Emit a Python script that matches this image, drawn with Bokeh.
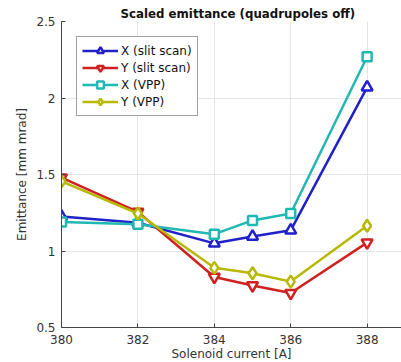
from bokeh.plotting import figure
from bokeh.models import Range1d, FixedTicker, Legend, LegendItem
from bokeh.embed import file_html
from bokeh.resources import INLINE

current = [380, 382, 384, 385, 386, 388]
x_slit = [1.225, 1.185, 1.05, 1.095, 1.135, 2.07]
y_slit = [1.48, 1.255, 0.83, 0.775, 0.725, 1.055]
x_vpp = [1.19, 1.175, 1.11, 1.20, 1.245, 2.27]
y_vpp = [1.455, 1.245, 0.89, 0.855, 0.80, 1.165]

x_ticks = [380, 382, 384, 386, 388]
y_ticks = [0.5, 1, 1.5, 2, 2.5]
y_tick_labels = ["0.5", "1", "1.5", "2", "2.5"]

series = [
    ("X (slit scan)", x_slit, "#2121c8", "triangle", 11, 8),
    ("Y (slit scan)", y_slit, "#d02121", "inverted_triangle", 11, 8),
    ("X (VPP)", x_vpp, "#21b8b3", "square", 9, 7),
    ("Y (VPP)", y_vpp, "#b8b800", "diamond", 12, 10),
]

font = "DejaVu Sans"

p = figure(frame_width=340, frame_height=306, output_backend="svg", toolbar_location=None,
           x_range=Range1d(380, 388.9), y_range=Range1d(0.5, 2.5),
           min_border_left=61, min_border_right=0, min_border_top=21,
           min_border_bottom=35, title="Scaled emittance (quadrupoles off)")
p.outline_line_color = None
p.background_fill_color = "white"
p.border_fill_color = "white"

p.title.align = "left"
p.title.offset = 59
p.title.text_font = font
p.title.text_font_size = "11.8px"
p.title.text_font_style = "bold"
p.title.text_color = "#111111"
p.title.standoff = 2

p.xaxis.ticker = FixedTicker(ticks=x_ticks)
p.yaxis.ticker = FixedTicker(ticks=y_ticks)
p.yaxis.major_label_overrides = {t: l for t, l in zip(y_ticks, y_tick_labels)}
p.yaxis.major_label_overrides[1] = "1"
p.xaxis.axis_label = "Solenoid current [A]"
p.yaxis.axis_label = "Emittance [mm mrad]"
for ax in (p.xaxis[0], p.yaxis[0]):
    ax.axis_line_color = "#444444"
    ax.major_tick_line_color = "#444444"
    ax.major_tick_in = 4
    ax.major_tick_out = 0
    ax.minor_tick_line_color = None
    ax.major_label_text_font = font
    ax.major_label_text_font_size = "12px"
    ax.major_label_text_color = "#333333"
    ax.axis_label_text_font = font
    ax.axis_label_text_font_size = "12px"
    ax.axis_label_text_font_style = "normal"
    ax.axis_label_text_color = "#333333"
p.xaxis.major_label_standoff = 7
p.xaxis.axis_label_standoff = 0
p.yaxis.major_label_standoff = 6
p.yaxis.axis_label_standoff = 4

p.grid.grid_line_color = "#e4e4e4"
p.grid.grid_line_width = 1

items = []
for label, vals, color, marker, size, lsize in series:
    r1 = p.line(current, vals, line_color=color, line_width=2.5)
    r2 = p.scatter(current, vals, marker=marker, size=lsize, line_color=color,
                   line_width=2.5, fill_color="white")
    p.scatter(current, vals, marker=marker, size=size, line_color=color,
              line_width=2.5, fill_color="white")
    items.append(LegendItem(label=label, renderers=[r1, r2]))

legend = Legend(items=items, location="top_left")
legend.margin = 15
legend.padding = 5
legend.spacing = 0
legend.label_height = 17
legend.glyph_height = 17
legend.glyph_width = 36
legend.label_standoff = 3
legend.label_text_font = font
legend.label_text_font_size = "12px"
legend.label_text_color = "#111111"
legend.border_line_color = "#444444"
legend.border_line_width = 1
legend.background_fill_color = "white"
p.add_layout(legend)

open("out.html", "w").write(file_html(p, INLINE))
